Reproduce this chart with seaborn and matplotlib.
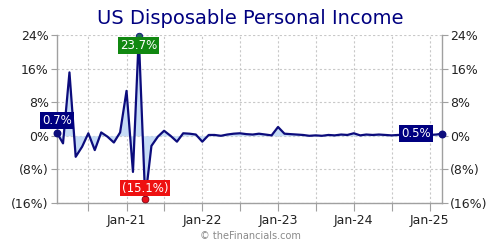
import numpy as np
import pandas as pd
import matplotlib
matplotlib.use("Agg")
import matplotlib.pyplot as plt
import seaborn as sns

# ---- data (monthly % change) ----
months = pd.date_range("2020-02-01", "2025-03-01", freq="MS")
change_pct = [
    0.7, -1.8, 15.1, -5.0, -2.6, 0.6, -3.4, 0.8, -0.2, -1.6, 0.8,          # 2020 Feb-Dec
    10.7, -8.6, 23.7, -15.1, -2.4, -0.2, 1.2, 0.0, -1.4, 0.6, 0.5, 0.3,    # 2021
    -1.4, 0.2, 0.2, 0.0, 0.3, 0.5, 0.6, 0.4, 0.3, 0.5, 0.3, 0.1,           # 2022
    2.1, 0.5, 0.4, 0.3, 0.2, 0.0, 0.1, 0.0, 0.2, 0.1, 0.3, 0.2,            # 2023
    0.6, 0.1, 0.3, 0.2, 0.3, 0.2, 0.1, 0.2, 0.2, 0.2, 0.2, 0.2,            # 2024
    0.2, 0.3, 0.5,                                                         # 2025 Jan-Mar
]
title = "US Disposable Personal Income"
watermark = "\u00a9 theFinancials.com"
ytick_values = [-16, -8, 0, 8, 16, 24]
ytick_labels = ["(16%)", "(8%)", "0%", "8%", "16%", "24%"]
xtick_dates = pd.date_range("2020-07-01", "2025-01-01", freq="6MS")
xtick_labels = [d.strftime("Jan-%y") if d.month == 1 else "" for d in xtick_dates]


def fmt_pct(v):
    return f"({abs(v):.1f}%)" if v < 0 else f"{v:.1f}%"


sns.set_theme(style="white")
plt.rcParams['font.family'] = ['DejaVu Sans']

navy = "#0c0c7c"
grey = "#a0a0a0"

fig = plt.figure(figsize=(5, 2.5), dpi=100)
ax = fig.add_axes([0.114, 0.188, 0.77, 0.672])

df = pd.DataFrame({"month": months, "change": change_pct})
ax.fill_between(df["month"], df["change"], 0, color="#c6dcf6", lw=0,
                interpolate=True, zorder=2)
sns.lineplot(data=df, x="month", y="change", ax=ax, color=navy, lw=1.6,
             zorder=3)

ax.set_xlim(months[0], months[-1])
ax.set_ylim(-16, 24)
ax.set_xlabel("")
ax.set_ylabel("")

ax.set_yticks(ytick_values)
ax.set_yticklabels(ytick_labels)
ax.set_xticks(xtick_dates)
ax.set_xticklabels(xtick_labels)

ax.grid(True, color="#c8c8c8", linestyle=(0, (2, 2)), lw=0.8, zorder=0)
for side in ["left", "right", "bottom"]:
    ax.spines[side].set_color(grey)
    ax.spines[side].set_linewidth(1.0)
ax.spines["top"].set_visible(False)

ax.tick_params(axis="y", which="both", left=True, right=True, labelleft=True,
               labelright=True, length=4, width=0.8, color=grey,
               labelsize=9, labelcolor="#222222", pad=2)
ax.tick_params(axis="x", bottom=True, length=6, width=0.8, color=grey,
               labelsize=9, labelcolor="#222222", pad=2)

# ---- highlighted points ----
vals = np.array(change_pct)
i_first, i_last = 0, len(vals) - 1
i_max, i_min = int(vals.argmax()), int(vals.argmin())

lbl_kw = dict(textcoords="offset points", fontsize=8.5, color="white",
              zorder=6, annotation_clip=False)

ax.scatter([months[i_first], months[i_last]], [vals[i_first], vals[i_last]],
           s=22, color=navy, zorder=5, clip_on=False)
ax.scatter([months[i_max]], [vals[i_max]], s=22, color="#1d6b55",
           edgecolor=navy, lw=0.6, zorder=5, clip_on=False)
ax.scatter([months[i_min]], [vals[i_min]], s=24, color="#e8101c",
           edgecolor="#7a0010", lw=0.6, zorder=5, clip_on=False)

ax.annotate(fmt_pct(vals[i_first]), (months[i_first], vals[i_first]),
            xytext=(0, 9), ha="center", va="center",
            bbox=dict(boxstyle="square,pad=0.15", fc="#000080", ec="none"),
            **lbl_kw)
ax.annotate(fmt_pct(vals[i_max]), (months[i_max], vals[i_max]),
            xytext=(0, -6.5), ha="center", va="center",
            bbox=dict(boxstyle="square,pad=0.15", fc="#118811", ec="none"),
            **lbl_kw)
ax.annotate(fmt_pct(vals[i_min]), (months[i_min], vals[i_min]),
            xytext=(0, 8), ha="center", va="center",
            bbox=dict(boxstyle="square,pad=0.15", fc="#ee1111", ec="none"),
            **lbl_kw)
ax.annotate(fmt_pct(vals[i_last]), (months[i_last], vals[i_last]),
            xytext=(-8, 0), ha="right", va="center",
            bbox=dict(boxstyle="square,pad=0.15", fc="#000080", ec="none"),
            **lbl_kw)

fig.text(0.5, 1 - 18 / 250, title, ha="center", va="center", fontsize=14,
         color="#000080")
fig.text(0.5, 1 - 236 / 250, watermark, ha="center", va="center",
         fontsize=7, color="#8a8a8a")

fig.savefig("out.png", dpi=100)
